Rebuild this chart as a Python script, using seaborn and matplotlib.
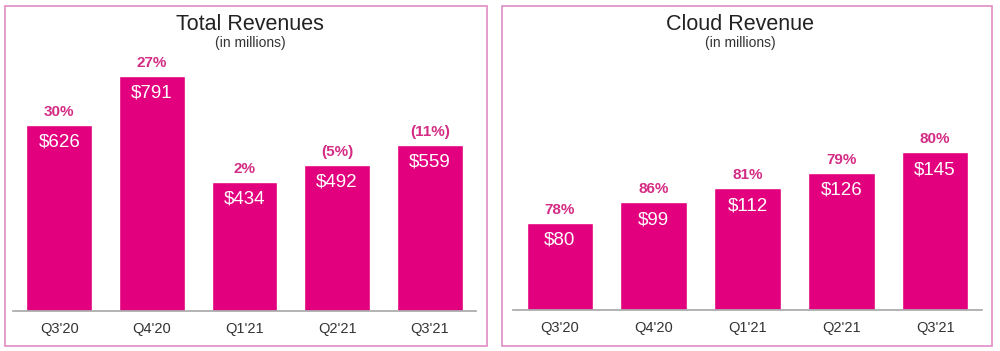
import matplotlib
matplotlib.use("Agg")
import matplotlib.pyplot as plt
from matplotlib.patches import Rectangle
import seaborn as sns
import pandas as pd

# Data
quarters = ["Q3'20", "Q4'20", "Q1'21", "Q2'21", "Q3'21"]
total_revenue = [626, 791, 434, 492, 559]
total_growth = ["30%", "27%", "2%", "(5%)", "(11%)"]
cloud_revenue = [80, 99, 112, 126, 145]
cloud_growth = ["78%", "86%", "81%", "79%", "80%"]

BAR = "#E2007E"
PCT = "#D42C85"
FRAME = "#E08CC4"

sns.set_theme(style="white")
plt.rcParams['font.family'] = ['Liberation Sans', 'DejaVu Sans']

fig = plt.figure(figsize=(10, 3.51), dpi=100)


def draw_panel(ax, values, growth, ymax, title, title_x):
    df = pd.DataFrame({"quarter": quarters, "value": values})
    sns.barplot(data=df, x="quarter", y="value", color=BAR, width=0.71,
                saturation=1, ax=ax)
    ax.set_ylim(0, ymax)
    ax.set_xlim(-0.5, len(quarters) - 0.5)
    for i, (v, g) in enumerate(zip(values, growth)):
        ax.annotate(f"${v}", (i, v), xytext=(0, -12.5), textcoords="offset points",
                    ha="center", va="center", color="white", fontsize=13.5)
        ax.annotate(g, (i, v), xytext=(0, 9.5), textcoords="offset points",
                    ha="center", va="center", color=PCT, fontsize=11, fontweight="bold")
    sns.despine(ax=ax, left=True, top=True, right=True)
    ax.spines["bottom"].set_color("#AAAAAA")
    ax.set_yticks([])
    ax.set_xlabel("")
    ax.set_ylabel("")
    ax.tick_params(axis="x", length=0, pad=8, labelsize=10.5, labelcolor="#333333")
    ax.set_facecolor("none")
    fig.text(title_x, 1 - 24 / 351, title, ha="center", va="center",
             fontsize=15.5, color="#222222")
    fig.text(title_x, 1 - 43 / 351, "(in millions)", ha="center", va="center",
             fontsize=10, color="#333333")


# Panel frames
for x0, x1 in [(5, 487), (502, 992)]:
    fig.patches.append(Rectangle((x0 / 1000, 5 / 351), (x1 - x0) / 1000, 340 / 351,
                                 transform=fig.transFigure, fill=False,
                                 edgecolor=FRAME, linewidth=1.2))

ax1 = fig.add_axes([13 / 1000, 1 - 311 / 351, 463 / 1000, 251 / 351])
draw_panel(ax1, total_revenue, total_growth, 845, "Total Revenues", 0.25)

ax2 = fig.add_axes([513 / 1000, 1 - 310 / 351, 469 / 1000, 250 / 351])
draw_panel(ax2, cloud_revenue, cloud_growth, 230, "Cloud Revenue", 0.74)

fig.savefig("out.png", dpi=100)
